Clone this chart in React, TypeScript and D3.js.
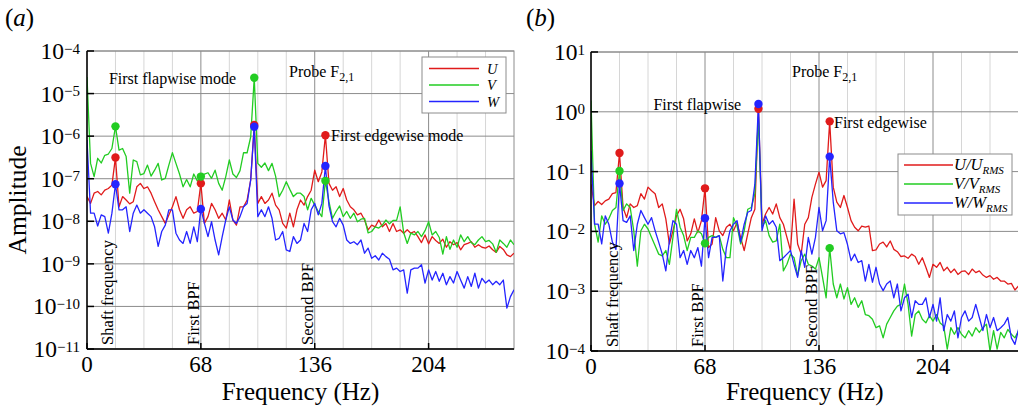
import React from "react";
import * as d3 from "d3";

// ---------- data (log10 of amplitude) ----------
const FREQ_STEP = 2.125; // Hz per spectral bin
const N_BINS = 121;
const freqs = d3.range(N_BINS).map((i) => i * FREQ_STEP);

const xTicks = [0, 68, 136, 204];
const xMinorTicks = [17, 34, 51, 85, 102, 119, 153, 170, 187, 221, 238];

// Panel (a): raw amplitudes U, V, W (log10)
const uLogA = [
  -7.42, -7.58, -7.34, -7.3, -7.38, -7.27, -7.23, -7.15, -6.5, -7.66,
  -7.42, -7.5, -7.59, -7.54, -7.19, -7.11, -7.23, -7.19, -7.34, -7.54,
  -7.73, -7.89, -8.05, -7.85, -7.66, -7.42, -7.73, -7.93, -7.73, -7.66,
  -7.81, -7.77, -7.11, -8.05, -7.89, -7.58, -7.73, -7.93, -7.81, -7.97,
  -7.5, -7.97, -8.09, -7.66, -7.66, -7.5, -7.03, -5.74, -7.58, -7.42,
  -7.58, -7.5, -7.34, -7.62, -7.73, -8.05, -8.16, -7.81, -8.13, -7.73,
  -7.5, -7.62, -7.42, -7.27, -6.8, -7.07, -6.84, -5.98, -7.11, -7.27,
  -7.19, -7.42, -7.23, -7.5, -7.66, -7.73, -7.85, -7.81, -7.97, -8.2,
  -8.09, -8.13, -7.97, -8.13, -8.05, -8.24, -8.05, -8.24, -8.2, -8.28,
  -8.2, -8.28, -8.24, -8.36, -8.5, -8.32, -8.53, -8.36, -8.45, -8.52,
  -8.42, -8.61, -8.48, -8.55, -8.5, -8.67, -8.55, -8.52, -8.48, -8.61,
  -8.55, -8.61, -8.63, -8.58, -8.67, -8.73, -8.59, -8.66, -8.79, -8.83,
  -8.75,
];
const vLogA = [
  -4.61, -6.64, -6.95, -6.52, -6.63, -6.45, -6.42, -6.29, -5.77, -6.33,
  -6.29, -6.48, -7.34, -6.56, -6.6, -6.91, -6.88, -6.68, -6.94, -6.8,
  -6.64, -7.03, -6.99, -6.68, -6.39, -6.64, -6.89, -7.19, -7.02, -7.19,
  -6.89, -7.05, -6.95, -6.89, -6.86, -6.99, -6.8, -7.11, -7.27, -6.95,
  -6.56, -6.89, -6.97, -6.81, -6.39, -6.39, -6.02, -4.63, -6.64, -6.73,
  -6.63, -6.81, -6.64, -6.94, -7.42, -7.27, -7.07, -7.25, -7.42, -7.34,
  -7.34, -7.42, -7.73, -7.46, -7.62, -7.77, -7.89, -7.05, -7.54, -7.93,
  -7.77, -7.64, -7.89, -7.77, -7.93, -7.81, -8.01, -7.95, -7.93, -8.27,
  -8.24, -8.13, -8.16, -8.09, -7.97, -8.06, -7.98, -7.98, -7.66, -8.27,
  -8.52, -8.28, -8.32, -8.24, -8.36, -8.22, -8.01, -8.32, -8.24, -8.38,
  -8.77, -8.36, -8.66, -8.44, -8.61, -8.32, -8.48, -8.36, -8.5, -8.55,
  -8.44, -8.36, -8.48, -8.45, -8.53, -8.73, -8.44, -8.52, -8.61, -8.44,
  -8.55,
];
const wLogA = [
  -6.09, -7.81, -7.81, -8.11, -7.85, -7.89, -8.28, -7.81, -7.13, -7.73,
  -7.73, -7.66, -8.24, -7.81, -7.62, -7.81, -7.73, -7.81, -7.89, -8.13,
  -8.59, -8.24, -8.09, -7.73, -7.73, -8.28, -8.44, -8.52, -8.24, -8.52,
  -8.13, -8.48, -7.71, -8.05, -8.36, -8.01, -8.44, -8.79, -8.36, -7.97,
  -7.66, -7.97, -8.05, -7.89, -7.66, -7.58, -7.03, -5.78, -7.89, -7.73,
  -7.89, -7.66, -7.93, -8.44, -8.4, -8.24, -8.67, -8.71, -8.36, -8.52,
  -8.44, -8.05, -8.24, -7.73, -7.58, -7.85, -7.58, -6.7, -7.64, -8.01,
  -8.13, -7.93, -8.09, -8.44, -8.52, -8.48, -8.55, -8.44, -8.75, -8.63,
  -8.87, -8.81, -8.91, -8.75, -8.83, -8.89, -9.14, -9.1, -9.18, -9.14,
  -9.69, -9.14, -9.1, -9.1, -9.02, -9.45, -9.14, -9.38, -9.18, -9.41,
  -9.22, -9.49, -9.3, -9.45, -9.18, -9.38, -9.57, -9.3, -9.53, -9.22,
  -9.57, -9.34, -9.45, -9.38, -9.49, -9.41, -9.49, -9.38, -10.04, -9.77,
  -9.61,
];

// Panel (b): RMS-normalised amplitudes (log10)
const uLogB = [
  -1.21, -1.57, -1.5, -1.55, -1.49, -1.46, -1.37, -1.35, -0.69, -1.6,
  -1.77, -1.54, -1.6, -1.57, -1.37, -1.46, -1.26, -1.32, -1.37, -1.6,
  -1.54, -1.79, -2.21, -1.99, -1.74, -1.63, -1.79, -2.16, -2.04, -1.79,
  -2.02, -1.82, -1.28, -2.27, -2.21, -1.77, -1.99, -2.07, -1.93, -1.88,
  -1.99, -1.85, -2.1, -2.32, -2.04, -1.77, -1.63, 0.05, -1.88, -1.71,
  -1.6, -1.71, -1.54, -1.77, -1.88, -2.1, -2.32, -1.46, -2.21, -2.38,
  -1.88, -1.77, -1.43, -1.21, -1.01, -1.26, -1.15, -0.16, -1.26, -1.51,
  -1.6, -1.4, -1.6, -1.82, -1.93, -1.99, -1.91, -1.93, -1.91, -2.32,
  -2.31, -2.21, -2.18, -2.26, -2.16, -2.3, -2.34, -2.42, -2.41, -2.45,
  -2.38, -2.42, -2.55, -2.44, -2.6, -2.77, -2.55, -2.6, -2.52, -2.66,
  -2.6, -2.69, -2.63, -2.72, -2.67, -2.66, -2.72, -2.63, -2.69, -2.66,
  -2.73, -2.77, -2.74, -2.8, -2.77, -2.83, -2.83, -2.88, -2.87, -2.98,
  -2.91,
];
const vLogB = [
  0.19, -1.88, -2.18, -1.74, -1.88, -1.79, -1.65, -1.6, -0.99, -1.65,
  -1.54, -1.6, -1.99, -2.58, -1.99, -1.88, -1.96, -2.1, -2.24, -2.38,
  -2.41, -2.32, -2.55, -2.1, -1.63, -1.93, -2.07, -2.32, -2.1, -2.1,
  -1.99, -2.04, -2.2, -2.1, -2.07, -2.1, -2.07, -2.3, -2.44, -2.44,
  -1.77, -1.91, -2.21, -1.99, -1.63, -1.6, -1.37, -0.09, -1.93, -1.82,
  -2.07, -2.18, -2.16, -1.88, -2.66, -2.55, -2.38, -2.44, -2.74, -2.49,
  -2.38, -2.55, -2.58, -2.63, -2.44, -2.77, -3.11, -2.28, -2.88, -3.11,
  -2.88, -3.13, -2.94, -3.22, -3.11, -3.27, -3.16, -3.39, -3.41, -3.47,
  -3.61, -3.58, -3.78, -3.55, -3.44, -3.33, -3.25, -3.22, -2.88, -3.22,
  -3.75, -3.39, -3.33, -3.47, -3.53, -3.41, -3.5, -3.39, -3.53, -3.58,
  -3.97, -3.61, -3.72, -3.61, -3.72, -3.78, -3.66, -3.75, -3.61, -3.69,
  -3.61, -3.55, -4.0, -3.66, -3.97, -3.69, -3.78, -3.64, -3.72, -3.78,
  -3.66,
];
const wLogB = [
  -0.65, -1.88, -1.88, -2.21, -1.74, -1.88, -2.18, -2.3, -1.2, -1.82,
  -1.85, -1.74, -2.32, -1.88, -1.65, -1.77, -1.88, -1.77, -1.99, -2.18,
  -2.38, -2.66, -2.16, -1.82, -1.88, -2.44, -2.32, -2.55, -2.32, -2.44,
  -2.27, -2.58, -1.78, -2.44, -2.1, -2.1, -2.07, -2.83, -2.27, -1.99,
  -1.88, -1.82, -2.18, -1.88, -1.68, -1.65, -1.21, 0.13, -1.99, -1.74,
  -1.88, -1.82, -1.93, -2.49, -2.44, -2.38, -2.32, -2.55, -2.77, -2.32,
  -2.6, -2.1, -2.38, -2.1, -1.6, -1.99, -1.82, -0.75, -1.51, -1.99,
  -2.04, -2.02, -2.22, -2.49, -2.38, -2.52, -2.49, -2.83, -2.55, -2.85,
  -2.6, -2.88, -2.99, -2.88, -2.83, -3.11, -2.88, -3.33, -3.11, -3.05,
  -3.44, -3.16, -3.22, -3.22, -3.11, -3.44, -3.22, -3.5, -3.11, -3.66,
  -3.39, -3.5, -3.33, -3.78, -3.44, -3.33, -3.5, -3.44, -3.22, -3.44,
  -3.66, -3.39, -3.61, -3.44, -3.66, -3.61, -3.55, -3.44, -3.78, -3.89,
  -3.64,
];

// bins where peaks are marked with dots
const peakBinsAll = [8, 32, 47, 67];
const peakBinsNoFlap = [8, 32, 67];

const COLORS = { U: "#e01b1b", V: "#22cc22", W: "#2424ff" };
const FONT = '"Liberation Serif", "Times New Roman", serif';

type Series = { key: "U" | "V" | "W"; logs: number[]; peaks: number[] };

type Note = { text: string; x: number; y: number; anchor?: string; sub?: string };

function Panel(props: {
  id: string;
  left: number;
  right: number;
  top: number;
  bottom: number;
  expMin: number;
  expMax: number;
  tickEnd: number;
  series: Series[];
  notes: Note[];
  vLabels: { f: number; text: string }[];
  panelLabel: string;
  panelLabelX: number;
  yTitle?: string;
}) {
  const { id, left, right, top, bottom, expMin, expMax, tickEnd, series } = props;
  const x = d3.scaleLinear().domain([0, 255]).range([left, right]);
  const y = d3.scaleLog().domain([10 ** expMin, 10 ** expMax]).range([bottom, top]);
  const line = d3
    .line<number>()
    .x((_, i) => x(freqs[i]))
    .y((d) => y(10 ** d));
  const exps = d3.range(expMin, expMax + 1);

  return (
    <g>
      <defs>
        <clipPath id={`clip-${id}`}>
          <rect x={left} y={top} width={right - left} height={bottom - top} />
        </clipPath>
      </defs>
      {/* minor vertical grid */}
      {xMinorTicks.map((f) => (
        <line key={`mn${f}`} x1={x(f)} x2={x(f)} y1={top} y2={bottom} stroke="#d6d6d6" strokeWidth={1} />
      ))}
      {/* major vertical grid */}
      {xTicks.slice(1).map((f) => (
        <line key={`mj${f}`} x1={x(f)} x2={x(f)} y1={top} y2={bottom} stroke="#8c8c8c" strokeWidth={1} />
      ))}
      {/* horizontal grid */}
      {exps.map((e) => (
        <line key={`h${e}`} x1={left} x2={right} y1={y(10 ** e)} y2={y(10 ** e)} stroke="#8c8c8c" strokeWidth={1} />
      ))}
      <rect x={left} y={top} width={right - left} height={bottom - top} fill="none" stroke="#8c8c8c" strokeWidth={1} />

      {/* series */}
      <g clipPath={`url(#clip-${id})`}>
        {series.map((s) => (
          <path key={s.key} d={line(s.logs) || ""} fill="none" stroke={COLORS[s.key]} strokeWidth={1.3} strokeLinejoin="round" />
        ))}
      </g>
      {series.map((s) =>
        s.peaks.map((i) => (
          <circle key={`${s.key}${i}`} cx={x(freqs[i])} cy={y(10 ** s.logs[i])} r={4.2} fill={COLORS[s.key]} />
        ))
      )}

      {/* axes */}
      <line x1={left} x2={left} y1={top} y2={bottom} stroke="#000" strokeWidth={1.5} />
      <line x1={left} x2={right} y1={bottom} y2={bottom} stroke="#000" strokeWidth={1.5} />
      {exps.map((e) => (
        <g key={`yt${e}`}>
          <line x1={left} x2={left + 7} y1={y(10 ** e)} y2={y(10 ** e)} stroke="#000" strokeWidth={1.5} />
          <text x={tickEnd} y={y(10 ** e) + 8} textAnchor="end" fontFamily={FONT} fontSize={23.5} fill="#000">
            <tspan>10</tspan>
            <tspan dy={-5.5} fontSize={15}>
              {e < 0 ? `\u2212${-e}` : `${e}`}
            </tspan>
          </text>
        </g>
      ))}
      {xTicks.map((f) => (
        <g key={`xt${f}`}>
          <line x1={x(f)} x2={x(f)} y1={bottom} y2={bottom - 6} stroke="#000" strokeWidth={1.5} />
          <text x={x(f)} y={bottom + 23} textAnchor="middle" fontFamily={FONT} fontSize={23} fill="#000">
            {f}
          </text>
        </g>
      ))}
      <text x={(left + right) / 2} y={399.5} textAnchor="middle" fontFamily={FONT} fontSize={25} fill="#000">
        Frequency (Hz)
      </text>
      {props.yTitle && (
        <text transform={`translate(26,${(top + bottom) / 2}) rotate(-90)`} textAnchor="middle" fontFamily={FONT} fontSize={25.5} fill="#000">
          {props.yTitle}
        </text>
      )}
      <text x={props.panelLabelX} y={26} fontFamily={FONT} fontSize={25} fill="#000">
        (<tspan fontStyle="italic">{props.panelLabel}</tspan>)
      </text>

      {/* vertical frequency labels */}
      {props.vLabels.map((v) => (
        <text key={v.text} transform={`translate(${x(v.f) - 2},${bottom - 4}) rotate(-90)`} fontFamily={FONT} fontSize={16.5} fill="#000">
          {v.text}
        </text>
      ))}
      {/* annotations */}
      {props.notes.map((n) => (
        <text key={n.text} x={n.x} y={n.y} textAnchor={n.anchor || "start"} fontFamily={FONT} fontSize={16} fill="#000">
          {n.text}
          {n.sub && (
            <tspan dy={4} fontSize={12}>
              {n.sub}
            </tspan>
          )}
        </text>
      ))}
    </g>
  );
}

export default function App() {
  const seriesA: Series[] = [
    { key: "U", logs: uLogA, peaks: peakBinsAll },
    { key: "V", logs: vLogA, peaks: peakBinsAll },
    { key: "W", logs: wLogA, peaks: peakBinsAll },
  ];
  const seriesB: Series[] = [
    { key: "U", logs: uLogB, peaks: peakBinsAll },
    { key: "V", logs: vLogB, peaks: peakBinsNoFlap },
    { key: "W", logs: wLogB, peaks: peakBinsAll },
  ];
  const vLabels = [
    { f: 17, text: "Shaft frequency" },
    { f: 68, text: "First BPF" },
    { f: 136, text: "Second BPF" },
  ];
  const legendA = ["U", "V", "W"] as const;
  const legendB = ["U", "V", "W"] as const;

  return (
    <svg width={1018} height={408} style={{ position: "absolute", left: 0, top: 0, background: "#fff" }}>
      <rect width={1018} height={408} fill="#fff" />
      <Panel
        id="a"
        left={87}
        right={514}
        top={51}
        bottom={349}
        expMin={-11}
        expMax={-4}
        tickEnd={80}
        series={seriesA}
        vLabels={vLabels}
        panelLabel="a"
        panelLabelX={5}
        yTitle="Amplitude"
        notes={[
          { text: "First flapwise mode", x: 236, y: 84, anchor: "end" },
          { text: "Probe F", x: 289, y: 77, sub: "2,1" },
          { text: "First edgewise mode", x: 331, y: 141 },
        ]}
      />
      <Panel
        id="b"
        left={591}
        right={1018.5}
        top={52}
        bottom={351}
        expMin={-4}
        expMax={1}
        tickEnd={585}
        series={seriesB}
        vLabels={vLabels}
        panelLabel="b"
        panelLabelX={526}
        notes={[
          { text: "First flapwise", x: 741, y: 110, anchor: "end" },
          { text: "Probe F", x: 792, y: 77, sub: "2,1" },
          { text: "First edgewise", x: 834, y: 128 },
        ]}
      />
      {/* legend (a) */}
      <g>
        <rect x={422} y={57} width={84} height={56} fill="#fff" stroke="#8c8c8c" strokeWidth={1} />
        {legendA.map((k, i) => (
          <g key={k}>
            <line x1={429} x2={479} y1={68.5 + i * 16.5} y2={68.5 + i * 16.5} stroke={COLORS[k]} strokeWidth={1.3} />
            <text x={487} y={73.5 + i * 16.5} fontFamily={FONT} fontSize={14.5} fontStyle="italic" fill="#000">
              {k}
            </text>
          </g>
        ))}
      </g>
      {/* legend (b) */}
      <g>
        <rect x={898} y={154} width={114} height={61} fill="#fff" stroke="#8c8c8c" strokeWidth={1} />
        {legendB.map((k, i) => (
          <g key={k}>
            <line x1={904} x2={953} y1={165 + i * 19} y2={165 + i * 19} stroke={COLORS[k]} strokeWidth={1.3} />
            <text x={954} y={170 + i * 19} fontFamily={FONT} fontSize={16.5} fontStyle="italic" fill="#000">
              {k}/{k}
              <tspan dy={3.5} fontSize={11}>
                RMS
              </tspan>
            </text>
          </g>
        ))}
      </g>
    </svg>
  );
}
